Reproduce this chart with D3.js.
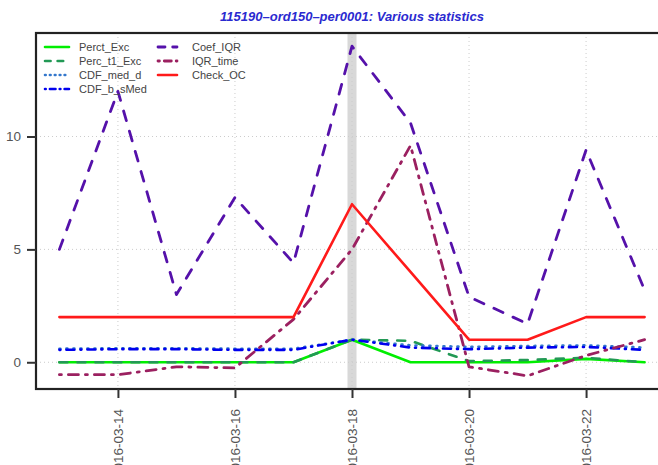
<!DOCTYPE html>
<html lang="en">
<head>
	<meta charset="utf-8">
	<title>Various statistics</title>
	<script src="https://d3js.org/d3.v7.min.js"></script>
	<style type="text/css">
		body{ margin:0; background:#fff; }
		svg{ display:block; font-family:"Liberation Sans", Arial, sans-serif; }
	</style>
</head>
<body>
	<svg id="chart" width="658" height="465"></svg>

	<script type="text/javascript">

	// data
	var days = ["2016-03-13","2016-03-14","2016-03-15","2016-03-16","2016-03-17","2016-03-18",
				"2016-03-19","2016-03-20","2016-03-21","2016-03-22","2016-03-23"]
	var percExc   = [0, 0, 0, 0, 0, 1, 0, 0, 0, 0.15, 0]
	var percT1Exc = [0, 0, 0, 0, 0, 1, 0.95, 0.05, 0.1, 0.2, 0]
	var cdfMedD   = [0.6, 0.62, 0.62, 0.6, 0.6, 1, 0.75, 0.68, 0.72, 0.75, 0.65]
	var cdfBsMed  = [0.55, 0.58, 0.58, 0.55, 0.55, 1, 0.65, 0.58, 0.65, 0.68, 0.55]
	var coefIQR   = [5, 12, 3, 7.3, 4.4, 14, 10.6, 2.9, 1.7, 9.4, 3.2]
	var iqrTime   = [-0.55, -0.55, -0.2, -0.25, 1.9, 5, 9.6, -0.2, -0.6, 0.3, 1.0]
	var checkOC   = [2, 2, 2, 2, 2, 7, 4, 1, 1, 2, 2]
	var yTicks = [0, 5, 10]
	var xTickDays = ["2016-03-14","2016-03-16","2016-03-18","2016-03-20","2016-03-22"]
	var markedDay = "2016-03-18"
	var title = "115190\u2013ord150\u2013per0001: Various statistics"

	var parse = d3.timeParse("%Y-%m-%d")
	var dates = days.map(parse)

	var series = [
		{name:"Perct_Exc",   values:percExc,   color:"#00ee00", dash:null,          w:2.6},
		{name:"Perc_t1_Exc", values:percT1Exc, color:"#229955", dash:"8,10",        w:2.6},
		{name:"CDF_med_d",   values:cdfMedD,   color:"#3377cc", dash:"1,6",         w:2.6},
		{name:"CDF_b_sMed",  values:cdfBsMed,  color:"#0000ee", dash:"1,6,8,6",     w:2.6},
		{name:"Coef_IQR",    values:coefIQR,   color:"#5511aa", dash:"10,11",       w:2.8},
		{name:"IQR_time",    values:iqrTime,   color:"#9b2060", dash:"2,7,10,7",    w:2.8},
		{name:"Check_OC",    values:checkOC,   color:"#ff1a1a", dash:null,          w:2.6}
	]

	// plot region
	var plotL = 36, plotR = 668, plotT = 33, plotB = 389

	var svg = d3.select("#chart")

	// R style 4% padding on both ends
	var x0 = dates[0], x1 = dates[dates.length-1]
	var pad = (x1 - x0) * 0.04
	var x = d3.scaleTime()
		.domain([new Date(+x0 - pad), new Date(+x1 + pad)])
		.range([plotL, plotR])

	var allVals = [].concat(percExc, percT1Exc, cdfMedD, cdfBsMed, coefIQR, iqrTime, checkOC)
	var ymin = d3.min(allVals), ymax = d3.max(allVals)
	var ypad = (ymax - ymin) * 0.04
	var y = d3.scaleLinear()
		.domain([ymin - ypad, ymax + ypad])
		.range([plotB, plotT])

	// title
	svg.append("text")
		.attr("x", 352)
		.attr("y", 21)
		.attr("text-anchor", "middle")
		.attr("font-size", 13)
		.attr("font-weight", "bold")
		.attr("font-style", "italic")
		.attr("fill", "#2a2ad0")
		.text(title)

	// highlighted day
	var md = parse(markedDay)
	svg.append("rect")
		.attr("x", x(md) - 4.5)
		.attr("y", plotT)
		.attr("width", 9)
		.attr("height", plotB - plotT)
		.attr("fill", "#d8d8d8")

	// dotted grid
	svg.append("g").selectAll("line")
		.data(yTicks)
		.join("line")
		.attr("x1", plotL).attr("x2", plotR)
		.attr("y1", d => y(d)).attr("y2", d => y(d))
		.attr("stroke", "#cccccc")
		.attr("stroke-dasharray", "1,3")

	svg.append("g").selectAll("line")
		.data(xTickDays.map(parse))
		.join("line")
		.attr("x1", d => x(d)).attr("x2", d => x(d))
		.attr("y1", plotT).attr("y2", plotB)
		.attr("stroke", "#cccccc")
		.attr("stroke-dasharray", "1,3")

	// lines
	var line = d3.line()
		.x((d, i) => x(dates[i]))
		.y(d => y(d))

	svg.append("g").selectAll("path")
		.data(series)
		.join("path")
		.attr("d", d => line(d.values))
		.attr("fill", "none")
		.attr("stroke", d => d.color)
		.attr("stroke-width", d => d.w)
		.attr("stroke-dasharray", d => d.dash)
		.attr("stroke-linecap", "round")
		.attr("stroke-linejoin", "round")

	// box
	svg.append("rect")
		.attr("x", plotL).attr("y", plotT)
		.attr("width", plotR - plotL).attr("height", plotB - plotT)
		.attr("fill", "none")
		.attr("stroke", "#222")
		.attr("stroke-width", 2.2)

	// axes
	var yAxis = svg.append("g")
		.attr("transform", "translate(" + plotL + ",0)")
		.call(d3.axisLeft(y).tickValues(yTicks).tickSize(9).tickPadding(6))
	yAxis.select(".domain").remove()

	var xAxis = svg.append("g")
		.attr("transform", "translate(0," + plotB + ")")
		.call(d3.axisBottom(x).tickValues(xTickDays.map(parse)).tickSize(9).tickFormat(d3.timeFormat("%Y-%m-%d")))
	xAxis.select(".domain").remove()
	xAxis.selectAll("text")
		.attr("transform", "rotate(-90)")
		.attr("text-anchor", "end")
		.attr("x", -20)
		.attr("y", 0)
		.attr("dy", "0.35em")

	svg.selectAll(".tick line").attr("stroke", "#333").attr("stroke-width", 2)
	svg.selectAll(".tick text")
		.attr("font-size", 13.5)
		.attr("fill", "#555")
		.attr("font-family", "Liberation Sans, Arial, sans-serif")

	// legend
	var legend = svg.append("g").attr("font-size", 11)
	series.forEach(function(s, i){
		var col = i < 4 ? 0 : 1
		var row = i < 4 ? i : i - 4
		var lx = col === 0 ? 45 : 158
		var ly = 47 + row * 14
		legend.append("line")
			.attr("x1", lx).attr("x2", lx + (col === 0 ? 24 : 19))
			.attr("y1", ly).attr("y2", ly)
			.attr("stroke", s.color)
			.attr("stroke-width", s.w)
			.attr("stroke-linecap", "round")
			.attr("stroke-dasharray", s.dash ? s.dash.split(",").map(v => +v * 0.7).join(",") : null)
		legend.append("text")
			.attr("x", col === 0 ? 79 : 192)
			.attr("y", ly)
			.attr("dy", "0.35em")
			.attr("fill", "#444")
			.text(s.name)
	})

	</script>
</body>
</html>
